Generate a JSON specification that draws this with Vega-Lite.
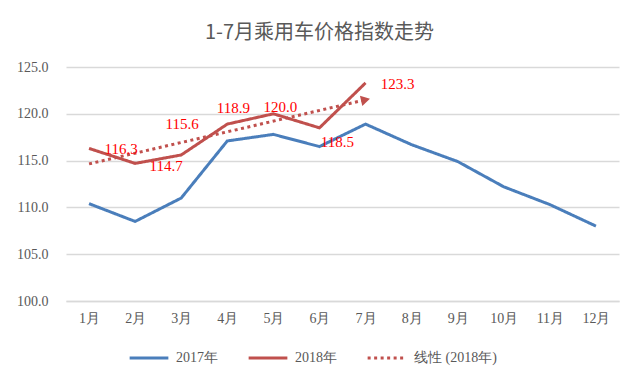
{
  "$schema": "https://vega.github.io/schema/vega-lite/v6.json",
  "autosize": {"type": "none"},
  "width": 553,
  "height": 234,
  "padding": {"left": 66, "top": 67, "right": 21, "bottom": 82},
  "background": "white",
  "config": {"view": {"stroke": null}},
  "title": {
    "text": "1-7月乘用车价格指数走势",
    "font": "Noto Sans CJK SC",
    "fontSize": 20,
    "fontWeight": "normal",
    "color": "#595959",
    "anchor": "middle",
    "dx": -23,
    "offset": 17
  },
  "data": {
    "values": [
      {"month": "1月", "series": "2017年", "value": 110.4},
      {"month": "2月", "series": "2017年", "value": 108.5},
      {"month": "3月", "series": "2017年", "value": 111.0},
      {"month": "4月", "series": "2017年", "value": 117.1},
      {"month": "5月", "series": "2017年", "value": 117.8},
      {"month": "6月", "series": "2017年", "value": 116.5},
      {"month": "7月", "series": "2017年", "value": 118.9},
      {"month": "8月", "series": "2017年", "value": 116.7},
      {"month": "9月", "series": "2017年", "value": 114.9},
      {"month": "10月", "series": "2017年", "value": 112.2},
      {"month": "11月", "series": "2017年", "value": 110.3},
      {"month": "12月", "series": "2017年", "value": 108.0},
      {"month": "1月", "series": "2018年", "value": 116.3},
      {"month": "2月", "series": "2018年", "value": 114.7},
      {"month": "3月", "series": "2018年", "value": 115.6},
      {"month": "4月", "series": "2018年", "value": 118.9},
      {"month": "5月", "series": "2018年", "value": 120.0},
      {"month": "6月", "series": "2018年", "value": 118.5},
      {"month": "7月", "series": "2018年", "value": 123.3},
      {"month": "1月", "series": "线性 (2018年)", "value": 114.65},
      {"month": "7月", "series": "线性 (2018年)", "value": 121.5}
    ]
  },
  "encoding": {
    "x": {
      "field": "month",
      "type": "ordinal",
      "sort": ["1月","2月","3月","4月","5月","6月","7月","8月","9月","10月","11月","12月"],
      "scale": {"domain": ["1月","2月","3月","4月","5月","6月","7月","8月","9月","10月","11月","12月"]},
      "axis": {
        "title": null,
        "labelAngle": 0,
        "labelFont": "Liberation Serif, Times New Roman, serif",
        "labelFontSize": 14,
        "labelColor": "#595959",
        "labelPadding": 10,
        "ticks": false,
        "domainColor": "#D9D9D9",
        "domainWidth": 1.5,
        "grid": false
      }
    },
    "y": {
      "field": "value",
      "type": "quantitative",
      "scale": {"domain": [100, 125], "nice": false, "zero": false},
      "axis": {
        "title": null,
        "values": [100, 105, 110, 115, 120, 125],
        "format": ".1f",
        "labelFont": "Liberation Serif, Times New Roman, serif",
        "labelFontSize": 14,
        "labelColor": "#595959",
        "labelPadding": 18,
        "ticks": false,
        "domain": false,
        "gridColor": "#D9D9D9",
        "gridWidth": 1.5
      }
    }
  },
  "layer": [
    {
      "mark": {"type": "line", "strokeWidth": 3},
      "encoding": {
        "color": {
          "field": "series",
          "type": "nominal",
          "scale": {"domain": ["2017年", "2018年", "线性 (2018年)"], "range": ["#4A7EBB", "#C0504D", "#C0504D"]},
          "legend": {
            "title": null,
            "orient": "none",
            "legendX": 62,
            "legendY": 270,
            "direction": "horizontal",
            "symbolType": "stroke",
            "symbolSize": 1500,
            "symbolStrokeWidth": 3,
            "labelFont": "Liberation Serif, Times New Roman, serif",
            "labelFontSize": 14,
            "labelColor": "#595959",
            "columnPadding": 24,
            "labelOffset": 6
          }
        },
        "strokeDash": {
          "field": "series",
          "type": "nominal",
          "scale": {"domain": ["2017年", "2018年", "线性 (2018年)"], "range": [[1, 0], [1, 0], [3, 3.5]]},
          "legend": {
            "title": null,
            "orient": "none",
            "legendX": 62,
            "legendY": 270,
            "direction": "horizontal",
            "symbolType": "stroke",
            "symbolSize": 1500,
            "symbolStrokeWidth": 3,
            "labelFont": "Liberation Serif, Times New Roman, serif",
            "labelFontSize": 14,
            "labelColor": "#595959",
            "columnPadding": 24,
            "labelOffset": 6
          }
        }
      }
    },
    {
      "transform": [{"filter": "datum.series === '线性 (2018年)' && datum.month === '7月'"}],
      "mark": {"type": "point", "shape": "triangle-right", "filled": true, "color": "#C0504D", "size": 110, "angle": -13, "opacity": 1}
    },
    {
      "transform": [{"filter": "datum.series === '2018年' && (datum.month === '1月' || datum.month === '7月')"}],
      "mark": {"type": "text", "font": "Liberation Serif, Times New Roman, serif", "fontSize": 15, "color": "#FF0000", "dx": 32, "dy": 1},
      "encoding": {"text": {"field": "value", "type": "quantitative", "format": ".1f"}}
    },
    {
      "transform": [{"filter": "datum.series === '2018年' && datum.month === '2月'"}],
      "mark": {"type": "text", "font": "Liberation Serif, Times New Roman, serif", "fontSize": 15, "color": "#FF0000", "dx": 31, "dy": 3},
      "encoding": {"text": {"field": "value", "type": "quantitative", "format": ".1f"}}
    },
    {
      "transform": [{"filter": "datum.series === '2018年' && datum.month === '3月'"}],
      "mark": {"type": "text", "font": "Liberation Serif, Times New Roman, serif", "fontSize": 15, "color": "#FF0000", "dx": 1, "dy": -31},
      "encoding": {"text": {"field": "value", "type": "quantitative", "format": ".1f"}}
    },
    {
      "transform": [{"filter": "datum.series === '2018年' && datum.month === '4月'"}],
      "mark": {"type": "text", "font": "Liberation Serif, Times New Roman, serif", "fontSize": 15, "color": "#FF0000", "dx": 6, "dy": -16},
      "encoding": {"text": {"field": "value", "type": "quantitative", "format": ".1f"}}
    },
    {
      "transform": [{"filter": "datum.series === '2018年' && datum.month === '5月'"}],
      "mark": {"type": "text", "font": "Liberation Serif, Times New Roman, serif", "fontSize": 15, "color": "#FF0000", "dx": 7, "dy": -7},
      "encoding": {"text": {"field": "value", "type": "quantitative", "format": ".1f"}}
    },
    {
      "transform": [{"filter": "datum.series === '2018年' && datum.month === '6月'"}],
      "mark": {"type": "text", "font": "Liberation Serif, Times New Roman, serif", "fontSize": 15, "color": "#FF0000", "dx": 18, "dy": 14},
      "encoding": {"text": {"field": "value", "type": "quantitative", "format": ".1f"}}
    }
  ]
}
